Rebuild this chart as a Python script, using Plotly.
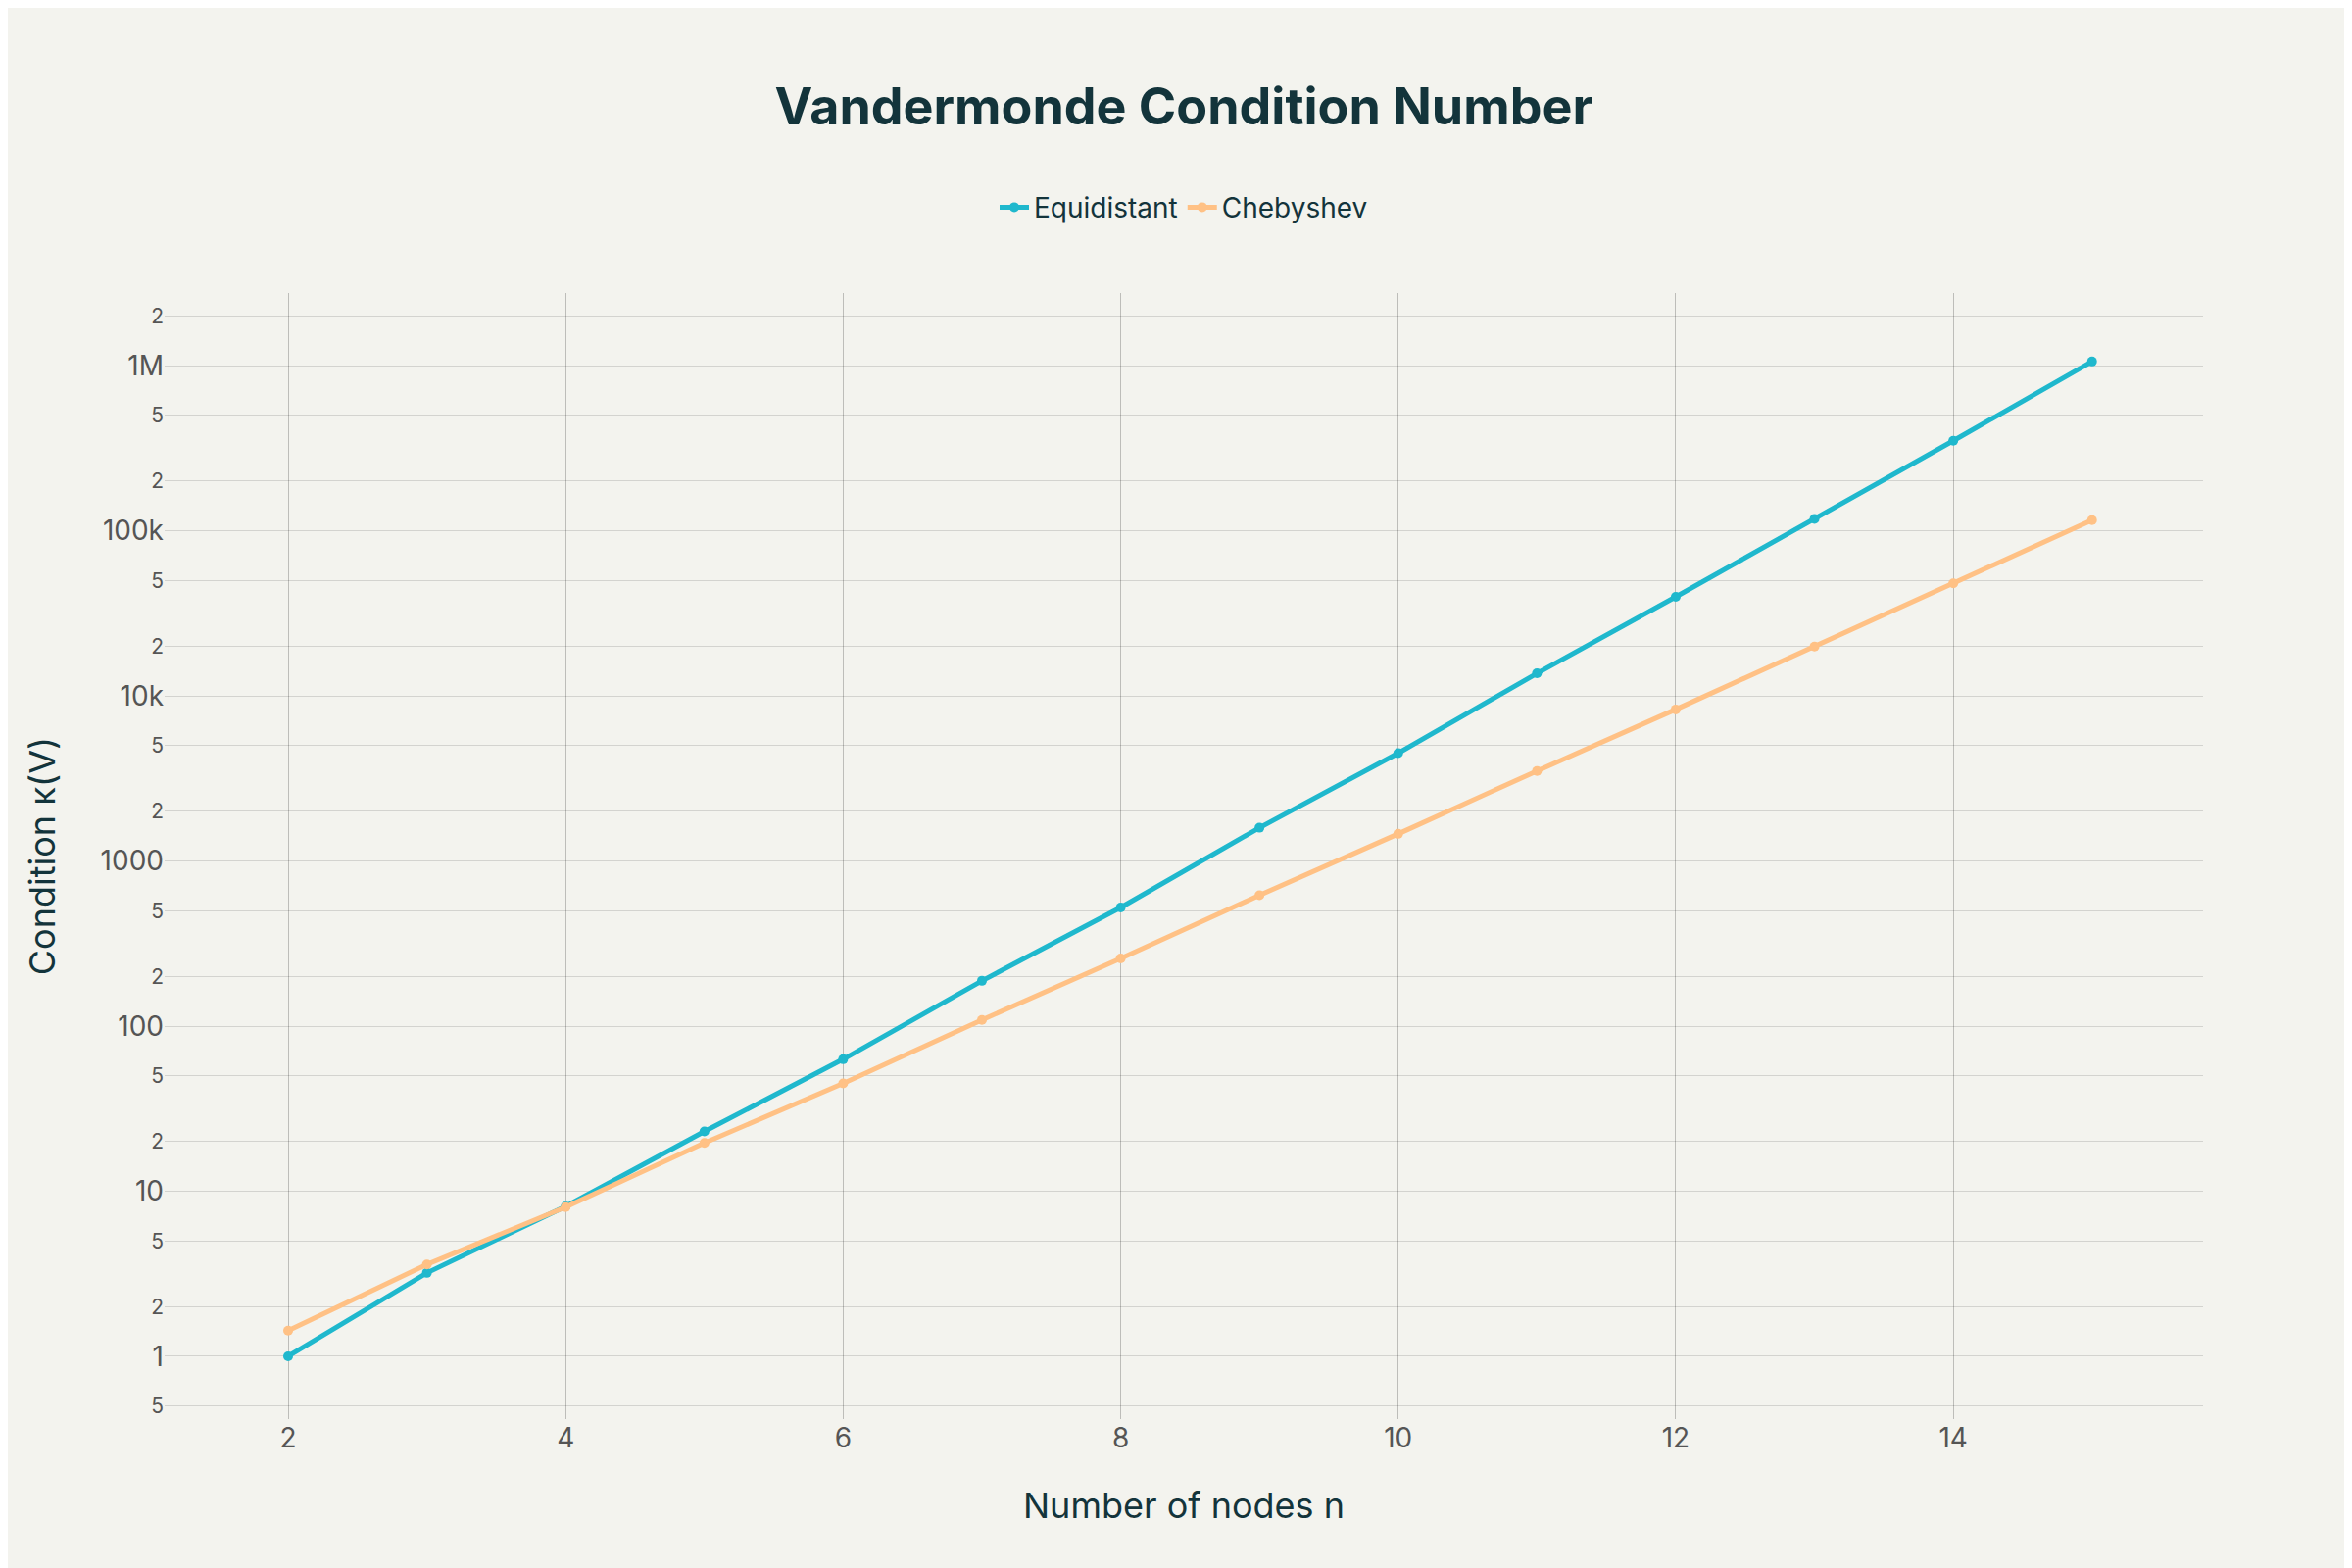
import plotly.graph_objects as go

n = list(range(2, 16))
equidistant = [1, 3.2, 8.1, 23, 63, 188, 523, 1590, 4500, 13700, 39800, 118000, 351000, 1060000]
chebyshev = [1.43, 3.6, 8, 19.6, 45, 109, 257, 620, 1460, 3510, 8280, 19900, 48000, 116000]

fig = go.Figure()
fig.add_trace(go.Scatter(x=n, y=equidistant, name="Equidistant", mode="lines+markers",
                         line=dict(color="#1FB8CD", width=5), marker=dict(size=10)))
fig.add_trace(go.Scatter(x=n, y=chebyshev, name="Chebyshev", mode="lines+markers",
                         line=dict(color="#FFC185", width=5), marker=dict(size=10)))
fig.update_layout(
    width=2400, height=1600,
    paper_bgcolor="#F3F3EE", plot_bgcolor="#F3F3EE",
    font=dict(family="Inter, Noto Sans", color="#13343B", size=26),
    title=dict(text="<b>Vandermonde Condition Number</b>", x=0.5, xanchor="center", y=0.937,
               yanchor="middle", font=dict(size=52)),
    legend=dict(orientation="h", x=0.5, xanchor="center", y=1.076, yanchor="middle",
                font=dict(size=28)),
    margin=dict(l=160, r=160, t=291, b=160),
)
fig.update_xaxes(title=dict(text="Number of nodes n", font=dict(size=36), standoff=40),
                 range=[1.11, 15.8], dtick=2, gridcolor="rgba(0,0,0,0.22)", zeroline=False,
                 showline=False, ticks="", tickfont=dict(size=28, color="#555"))
fig.update_yaxes(type="log", title=dict(text="Condition κ(V)", font=dict(size=36), standoff=35),
                 range=[-0.38, 6.44], dtick="D2", gridcolor="rgba(0,0,0,0.13)", zeroline=False,
                 showline=False, tickfont=dict(size=28, color="#555"))
fig.write_html("out.html")
